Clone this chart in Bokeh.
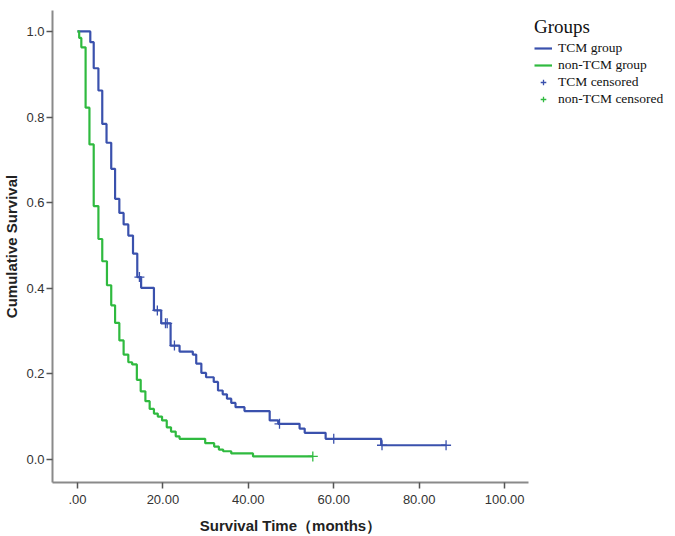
from bokeh.plotting import figure
from bokeh.models import (ColumnDataSource, Legend, LegendItem, Range1d,
                          FixedTicker, PrintfTickFormatter)
from bokeh.embed import file_html
from bokeh.resources import INLINE

# ---- data ----
tcm_time = [0, 3.0, 3.8, 4.9, 5.8, 6.8, 7.9, 8.8, 9.8, 10.8, 11.9, 13.0, 14.0, 14.9,
            17.9, 19.6, 21.8, 23.9, 27.0, 27.8, 29.0, 30.1, 31.9, 32.9, 34.0, 35.0,
            36.0, 37.0, 39.1, 45.0, 47.0, 52.0, 53.2, 58.1, 71.1, 86.3]
tcm_surv = [1.0, 0.975, 0.914, 0.862, 0.784, 0.740, 0.679, 0.609, 0.576, 0.549, 0.523,
            0.481, 0.426, 0.401, 0.348, 0.318, 0.266, 0.252, 0.245, 0.224, 0.202, 0.192,
            0.181, 0.161, 0.152, 0.142, 0.132, 0.122, 0.113, 0.091, 0.083, 0.072, 0.062,
            0.048, 0.033, 0.033]

non_time = [0, 0.4, 0.9, 1.9, 2.8, 3.8, 4.9, 5.8, 6.9, 7.9, 8.8, 9.8, 10.8, 11.9, 12.8,
            13.9, 14.8, 15.9, 16.9, 17.9, 18.8, 19.8, 20.9, 21.9, 23.0, 23.9, 29.9, 32.0,
            33.1, 34.1, 36.0, 41.1, 55.1]
non_surv = [1.0, 0.985, 0.963, 0.822, 0.736, 0.592, 0.515, 0.463, 0.407, 0.360, 0.319,
            0.278, 0.245, 0.227, 0.222, 0.186, 0.159, 0.136, 0.118, 0.107, 0.100, 0.091,
            0.075, 0.065, 0.054, 0.048, 0.038, 0.030, 0.023, 0.019, 0.014, 0.007, 0.007]

tcm_cens_time = [14.5, 18.7, 20.6, 21.0, 22.7, 47.3, 60.0, 71.3, 86.3]
tcm_cens_surv = [0.426, 0.348, 0.318, 0.318, 0.266, 0.083, 0.048, 0.033, 0.033]
non_cens_time = [55.1]
non_cens_surv = [0.007]

x_ticks = [0, 20, 40, 60, 80, 100]
x_tick_labels = [".00", "20.00", "40.00", "60.00", "80.00", "100.00"]
y_ticks = [0.0, 0.2, 0.4, 0.6, 0.8, 1.0]

legend_title = "Groups"
series_labels = ["TCM group", "non-TCM group", "TCM censored", "non-TCM censored"]

BLUE = "#3a51ad"
GREEN = "#2fba3f"

p = figure(frame_width=476, frame_height=472, output_backend="svg",
           toolbar_location=None, x_range=Range1d(-5.85, 105.6),
           y_range=Range1d(-0.054, 1.049), min_border_left=43, min_border_top=10,
           min_border_right=0, min_border_bottom=2)

p.xgrid.visible = False
p.ygrid.visible = False
p.outline_line_color = None

r_tcm = p.step(x="t", y="s", mode="after", line_color=BLUE, line_width=2.2,
               source=ColumnDataSource(dict(t=tcm_time, s=tcm_surv)))
r_non = p.step(x="t", y="s", mode="after", line_color=GREEN, line_width=2.2,
               source=ColumnDataSource(dict(t=non_time, s=non_surv)))
r_tc = p.scatter(x="t", y="s", marker="cross", size=10, line_width=1.3, line_color=BLUE,
                 source=ColumnDataSource(dict(t=tcm_cens_time, s=tcm_cens_surv)))
r_nc = p.scatter(x="t", y="s", marker="cross", size=10, line_width=1.3, line_color=GREEN,
                 source=ColumnDataSource(dict(t=non_cens_time, s=non_cens_surv)))

# axes
for ax in (p.xaxis[0], p.yaxis[0]):
    ax.axis_line_color = "#8a8a8a"
    ax.axis_line_width = 2
    ax.major_tick_line_color = "#555555"
    ax.major_tick_line_width = 1.5
    ax.major_tick_in = 0
    ax.major_tick_out = 6
    ax.minor_tick_line_color = None
    ax.major_label_text_font = "Liberation Sans"
    ax.major_label_text_font_size = "13px"
    ax.major_label_text_color = "#333333"
    ax.axis_label_text_font = "Liberation Sans"
    ax.axis_label_text_font_style = "bold"
    ax.axis_label_text_font_size = "15px"
    ax.axis_label_text_color = "#222222"

p.xaxis.ticker = FixedTicker(ticks=x_ticks)
p.xaxis.major_label_overrides = dict(zip(x_ticks, x_tick_labels))
p.xaxis.axis_label = "Survival Time（months）"
p.xaxis.major_label_standoff = 6
p.xaxis.axis_label_standoff = 10

p.yaxis.ticker = FixedTicker(ticks=y_ticks)
p.yaxis.formatter = PrintfTickFormatter(format="%.1f")
p.yaxis.axis_label = "Cumulative Survival"
p.yaxis.major_label_standoff = 2
p.yaxis.axis_label_standoff = 3

legend = Legend(items=[
    LegendItem(label=series_labels[0], renderers=[r_tcm]),
    LegendItem(label=series_labels[1], renderers=[r_non]),
    LegendItem(label=series_labels[2], renderers=[r_tc]),
    LegendItem(label=series_labels[3], renderers=[r_nc]),
], title=legend_title, location="top_left")
legend.title_text_font = "Liberation Serif"
legend.title_text_font_size = "19px"
legend.title_text_font_style = "normal"
legend.title_text_color = "#111111"
legend.title_standoff = 2
legend.label_text_font = "Liberation Serif"
legend.label_text_font_size = "13.5px"
legend.label_text_color = "#111111"
legend.label_height = 14
legend.label_standoff = 6
legend.glyph_width = 18
legend.glyph_height = 14
legend.spacing = 1
legend.padding = 0
legend.margin = 6
legend.border_line_color = None
legend.background_fill_alpha = 0
p.add_layout(legend, "right")

open("out.html", "w").write(file_html(p, INLINE))
